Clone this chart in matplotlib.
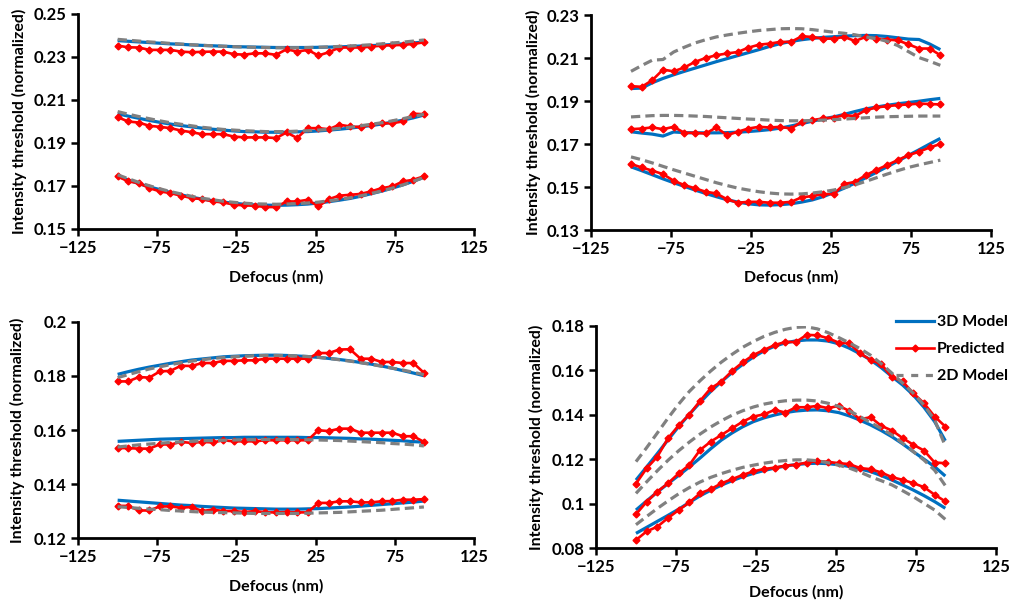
import matplotlib
matplotlib.use('Agg')
import matplotlib.pyplot as plt
from matplotlib.lines import Line2D

plt.rcParams['font.family'] = ['Lato', 'DejaVu Sans']
plt.rcParams['font.weight'] = 'bold'

# ---------------- data ----------------
defocus = [-100, -93.33, -86.67, -80, -73.33, -66.67, -60, -53.33, -46.67, -40,
           -33.33, -26.67, -20, -13.33, -6.67, 0, 6.67, 13.33, 20, 26.67,
           33.33, 40, 46.67, 53.33, 60, 66.67, 73.33, 80, 86.67, 93.33]

xticks = [-125, -75, -25, 25, 75, 125]
xtick_labels = ['\u2212125', '\u221275', '\u221225', '25', '75', '125']

# Panel 1 (top-left)
p1_top_3d = [0.2376, 0.2373, 0.2370, 0.2367, 0.2364, 0.2361, 0.2359, 0.2356, 0.2354, 0.2352, 0.2350, 0.2348, 0.2347, 0.2346, 0.2345, 0.2344, 0.2344, 0.2344, 0.2344, 0.2345, 0.2346, 0.2347, 0.2349, 0.2351, 0.2353, 0.2355, 0.2358, 0.2361, 0.2365, 0.2370]
p1_top_pred = [0.2353, 0.2345, 0.2344, 0.2333, 0.2333, 0.2333, 0.2325, 0.2322, 0.2324, 0.2325, 0.2325, 0.2313, 0.2311, 0.2317, 0.2317, 0.2310, 0.2336, 0.2325, 0.2333, 0.2307, 0.2322, 0.2344, 0.2344, 0.2344, 0.2348, 0.2353, 0.2355, 0.2356, 0.2361, 0.2368]
p1_top_2d = [0.2382, 0.2378, 0.2374, 0.2370, 0.2367, 0.2363, 0.2360, 0.2357, 0.2354, 0.2352, 0.2350, 0.2348, 0.2346, 0.2345, 0.2344, 0.2343, 0.2343, 0.2343, 0.2344, 0.2345, 0.2347, 0.2349, 0.2351, 0.2354, 0.2357, 0.2361, 0.2365, 0.2369, 0.2374, 0.2379]
p1_mid_3d = [0.2036, 0.2025, 0.2015, 0.2005, 0.1996, 0.1988, 0.1981, 0.1975, 0.1969, 0.1964, 0.1960, 0.1956, 0.1953, 0.1952, 0.1950, 0.1950, 0.1950, 0.1952, 0.1953, 0.1956, 0.1960, 0.1964, 0.1969, 0.1975, 0.1981, 0.1988, 0.1997, 0.2006, 0.2017, 0.2030]
p1_mid_pred = [0.2020, 0.2000, 0.1995, 0.1980, 0.1975, 0.1969, 0.1958, 0.1950, 0.1941, 0.1941, 0.1941, 0.1930, 0.1926, 0.1926, 0.1926, 0.1923, 0.1949, 0.1923, 0.1969, 0.1969, 0.1964, 0.1985, 0.1977, 0.1974, 0.1985, 0.1992, 0.1992, 0.2000, 0.2036, 0.2034]
p1_mid_2d = [0.2046, 0.2034, 0.2023, 0.2013, 0.2003, 0.1994, 0.1987, 0.1980, 0.1973, 0.1968, 0.1963, 0.1960, 0.1957, 0.1955, 0.1953, 0.1953, 0.1953, 0.1955, 0.1957, 0.1960, 0.1963, 0.1968, 0.1973, 0.1980, 0.1987, 0.1994, 0.2003, 0.2013, 0.2023, 0.2034]
p1_bot_3d = [0.1745, 0.1728, 0.1711, 0.1696, 0.1683, 0.1670, 0.1659, 0.1648, 0.1639, 0.1632, 0.1625, 0.1620, 0.1615, 0.1612, 0.1611, 0.1610, 0.1611, 0.1613, 0.1616, 0.1621, 0.1627, 0.1634, 0.1642, 0.1652, 0.1664, 0.1676, 0.1690, 0.1705, 0.1722, 0.1740]
p1_bot_pred = [0.1745, 0.1721, 0.1714, 0.1690, 0.1675, 0.1667, 0.1655, 0.1644, 0.1639, 0.1628, 0.1624, 0.1613, 0.1610, 0.1608, 0.1602, 0.1602, 0.1628, 0.1628, 0.1636, 0.1605, 0.1639, 0.1655, 0.1659, 0.1663, 0.1675, 0.1690, 0.1698, 0.1721, 0.1729, 0.1745]
p1_bot_2d = [0.1752, 0.1734, 0.1717, 0.1701, 0.1687, 0.1674, 0.1663, 0.1652, 0.1643, 0.1636, 0.1629, 0.1624, 0.1620, 0.1617, 0.1616, 0.1615, 0.1616, 0.1618, 0.1621, 0.1625, 0.1631, 0.1637, 0.1645, 0.1654, 0.1665, 0.1677, 0.1690, 0.1705, 0.1722, 0.1740]
p1_yticks = [0.15, 0.17, 0.19, 0.21, 0.23, 0.25]
p1_ylabels = ['0.15', '0.17', '0.19', '0.21', '0.23', '0.25']

# Panel 2 (top-right)
p2_top_3d = [0.1958, 0.1960, 0.1985, 0.2005, 0.2022, 0.2038, 0.2053, 0.2068, 0.2083, 0.2097, 0.2111, 0.2125, 0.2139, 0.2154, 0.2167, 0.2177, 0.2185, 0.2191, 0.2196, 0.2199, 0.2202, 0.2204, 0.2205, 0.2204, 0.2200, 0.2194, 0.2188, 0.2186, 0.2165, 0.2139]
p2_top_pred = [0.1969, 0.1966, 0.1997, 0.2046, 0.2038, 0.2056, 0.2082, 0.2100, 0.2113, 0.2121, 0.2128, 0.2148, 0.2162, 0.2167, 0.2175, 0.2175, 0.2201, 0.2198, 0.2190, 0.2190, 0.2198, 0.2179, 0.2198, 0.2190, 0.2186, 0.2182, 0.2164, 0.2144, 0.2144, 0.2113]
p2_top_2d = [0.2038, 0.2065, 0.2090, 0.2093, 0.2128, 0.2150, 0.2170, 0.2185, 0.2198, 0.2207, 0.2215, 0.2222, 0.2228, 0.2232, 0.2236, 0.2237, 0.2236, 0.2232, 0.2226, 0.2220, 0.2215, 0.2208, 0.2198, 0.2190, 0.2178, 0.2158, 0.2130, 0.2102, 0.2085, 0.2066]
p2_mid_3d = [0.1757, 0.1751, 0.1746, 0.1737, 0.1756, 0.1753, 0.1752, 0.1752, 0.1752, 0.1753, 0.1755, 0.1758, 0.1762, 0.1767, 0.1774, 0.1784, 0.1795, 0.1806, 0.1817, 0.1826, 0.1838, 0.1851, 0.1863, 0.1872, 0.1880, 0.1887, 0.1893, 0.1899, 0.1906, 0.1912]
p2_mid_pred = [0.1769, 0.1772, 0.1777, 0.1769, 0.1780, 0.1752, 0.1752, 0.1749, 0.1777, 0.1741, 0.1757, 0.1772, 0.1780, 0.1777, 0.1780, 0.1772, 0.1803, 0.1811, 0.1819, 0.1823, 0.1834, 0.1830, 0.1857, 0.1870, 0.1876, 0.1881, 0.1884, 0.1888, 0.1886, 0.1884]
p2_mid_2d = [0.1826, 0.1829, 0.1832, 0.1833, 0.1833, 0.1832, 0.1830, 0.1828, 0.1825, 0.1822, 0.1819, 0.1816, 0.1814, 0.1811, 0.1809, 0.1808, 0.1808, 0.1809, 0.1811, 0.1813, 0.1816, 0.1819, 0.1822, 0.1825, 0.1827, 0.1828, 0.1829, 0.1830, 0.1830, 0.1830]
p2_bot_3d = [0.1594, 0.1576, 0.1557, 0.1538, 0.1520, 0.1503, 0.1486, 0.1470, 0.1455, 0.1441, 0.1430, 0.1422, 0.1417, 0.1416, 0.1418, 0.1422, 0.1430, 0.1440, 0.1455, 0.1474, 0.1495, 0.1518, 0.1543, 0.1568, 0.1594, 0.1620, 0.1647, 0.1673, 0.1700, 0.1726]
p2_bot_pred = [0.1607, 0.1591, 0.1576, 0.1560, 0.1529, 0.1509, 0.1494, 0.1478, 0.1470, 0.1443, 0.1427, 0.1431, 0.1431, 0.1427, 0.1427, 0.1431, 0.1452, 0.1458, 0.1467, 0.1467, 0.1514, 0.1524, 0.1555, 0.1579, 0.1602, 0.1625, 0.1648, 0.1664, 0.1684, 0.1700]
p2_bot_2d = [0.1640, 0.1627, 0.1612, 0.1596, 0.1580, 0.1565, 0.1550, 0.1535, 0.1520, 0.1507, 0.1495, 0.1486, 0.1478, 0.1472, 0.1468, 0.1467, 0.1468, 0.1472, 0.1478, 0.1486, 0.1497, 0.1510, 0.1526, 0.1543, 0.1560, 0.1576, 0.1591, 0.1603, 0.1614, 0.1625]
p2_yticks = [0.13, 0.15, 0.17, 0.19, 0.21, 0.23]
p2_ylabels = ['0.13', '0.15', '0.17', '0.19', '0.21', '0.23']

# Panel 3 (bottom-left)
p3_top_3d = [0.1806, 0.1816, 0.1825, 0.1833, 0.1840, 0.1847, 0.1853, 0.1859, 0.1863, 0.1867, 0.1871, 0.1873, 0.1875, 0.1876, 0.1877, 0.1877, 0.1876, 0.1874, 0.1872, 0.1869, 0.1865, 0.1861, 0.1856, 0.1850, 0.1844, 0.1837, 0.1829, 0.1820, 0.1811, 0.1801]
p3_top_pred = [0.1780, 0.1780, 0.1796, 0.1794, 0.1817, 0.1819, 0.1838, 0.1837, 0.1848, 0.1848, 0.1856, 0.1856, 0.1858, 0.1858, 0.1864, 0.1864, 0.1864, 0.1864, 0.1864, 0.1885, 0.1885, 0.1898, 0.1899, 0.1864, 0.1864, 0.1852, 0.1852, 0.1848, 0.1848, 0.1812]
p3_top_2d = [0.1794, 0.1805, 0.1816, 0.1826, 0.1834, 0.1842, 0.1849, 0.1855, 0.1860, 0.1865, 0.1868, 0.1871, 0.1873, 0.1875, 0.1876, 0.1876, 0.1876, 0.1874, 0.1872, 0.1869, 0.1865, 0.1860, 0.1855, 0.1849, 0.1843, 0.1836, 0.1829, 0.1822, 0.1814, 0.1805]
p3_mid_3d = [0.1558, 0.1560, 0.1562, 0.1564, 0.1566, 0.1567, 0.1568, 0.1569, 0.1570, 0.1571, 0.1572, 0.1572, 0.1573, 0.1573, 0.1573, 0.1573, 0.1573, 0.1573, 0.1572, 0.1572, 0.1571, 0.1570, 0.1569, 0.1567, 0.1566, 0.1564, 0.1562, 0.1560, 0.1557, 0.1555]
p3_mid_pred = [0.1533, 0.1533, 0.1531, 0.1531, 0.1547, 0.1546, 0.1556, 0.1552, 0.1556, 0.1554, 0.1562, 0.1558, 0.1558, 0.1558, 0.1562, 0.1562, 0.1562, 0.1562, 0.1562, 0.1599, 0.1596, 0.1605, 0.1605, 0.1590, 0.1590, 0.1590, 0.1590, 0.1577, 0.1577, 0.1556]
p3_mid_2d = [0.1537, 0.1541, 0.1545, 0.1548, 0.1551, 0.1554, 0.1556, 0.1558, 0.1560, 0.1561, 0.1562, 0.1563, 0.1564, 0.1564, 0.1565, 0.1565, 0.1565, 0.1564, 0.1564, 0.1563, 0.1562, 0.1561, 0.1559, 0.1557, 0.1555, 0.1553, 0.1550, 0.1548, 0.1545, 0.1541]
p3_bot_3d = [0.1340, 0.1337, 0.1334, 0.1331, 0.1328, 0.1325, 0.1322, 0.1320, 0.1317, 0.1315, 0.1313, 0.1311, 0.1310, 0.1309, 0.1308, 0.1307, 0.1307, 0.1307, 0.1308, 0.1309, 0.1311, 0.1313, 0.1315, 0.1318, 0.1321, 0.1324, 0.1327, 0.1330, 0.1333, 0.1337]
p3_bot_pred = [0.1319, 0.1319, 0.1302, 0.1302, 0.1317, 0.1317, 0.1312, 0.1315, 0.1300, 0.1305, 0.1300, 0.1300, 0.1296, 0.1300, 0.1295, 0.1295, 0.1296, 0.1295, 0.1295, 0.1330, 0.1330, 0.1336, 0.1336, 0.1332, 0.1332, 0.1336, 0.1337, 0.1342, 0.1342, 0.1344]
p3_bot_2d = [0.1316, 0.1313, 0.1310, 0.1307, 0.1305, 0.1302, 0.1300, 0.1298, 0.1296, 0.1295, 0.1294, 0.1293, 0.1292, 0.1291, 0.1291, 0.1291, 0.1291, 0.1291, 0.1292, 0.1293, 0.1294, 0.1295, 0.1297, 0.1299, 0.1301, 0.1303, 0.1306, 0.1309, 0.1312, 0.1315]
p3_yticks = [0.12, 0.14, 0.16, 0.18, 0.20]
p3_ylabels = ['0.12', '0.14', '0.16', '0.18', '0.2']

# Panel 4 (bottom-right)
p4_top_3d = [0.1106, 0.1165, 0.1225, 0.1287, 0.1347, 0.1402, 0.1455, 0.1505, 0.1549, 0.1590, 0.1627, 0.1660, 0.1688, 0.1709, 0.1724, 0.1733, 0.1737, 0.1737, 0.1732, 0.1720, 0.1700, 0.1675, 0.1647, 0.1612, 0.1572, 0.1534, 0.1489, 0.1434, 0.1369, 0.1283]
p4_top_pred = [0.1090, 0.1159, 0.1211, 0.1294, 0.1352, 0.1401, 0.1462, 0.1519, 0.1549, 0.1597, 0.1636, 0.1669, 0.1692, 0.1714, 0.1728, 0.1728, 0.1760, 0.1758, 0.1745, 0.1725, 0.1722, 0.1677, 0.1647, 0.1628, 0.1569, 0.1550, 0.1497, 0.1452, 0.1392, 0.1347]
p4_top_2d = [0.1189, 0.1252, 0.1318, 0.1385, 0.1448, 0.1505, 0.1553, 0.1597, 0.1637, 0.1672, 0.1704, 0.1730, 0.1753, 0.1771, 0.1785, 0.1794, 0.1796, 0.1787, 0.1770, 0.1748, 0.1724, 0.1698, 0.1668, 0.1630, 0.1587, 0.1543, 0.1497, 0.1444, 0.1377, 0.1259]
p4_mid_3d = [0.0971, 0.1012, 0.1052, 0.1090, 0.1127, 0.1165, 0.1205, 0.1247, 0.1286, 0.1318, 0.1346, 0.1369, 0.1386, 0.1399, 0.1410, 0.1417, 0.1421, 0.1422, 0.1418, 0.1410, 0.1395, 0.1376, 0.1354, 0.1329, 0.1301, 0.1269, 0.1234, 0.1200, 0.1166, 0.1124]
p4_mid_pred = [0.0952, 0.1008, 0.1054, 0.1091, 0.1136, 0.1174, 0.1241, 0.1279, 0.1309, 0.1339, 0.1369, 0.1392, 0.1402, 0.1422, 0.1410, 0.1434, 0.1434, 0.1440, 0.1430, 0.1440, 0.1418, 0.1380, 0.1389, 0.1350, 0.1329, 0.1295, 0.1265, 0.1239, 0.1185, 0.1182]
p4_mid_2d = [0.1046, 0.1098, 0.1148, 0.1195, 0.1238, 0.1277, 0.1313, 0.1345, 0.1373, 0.1398, 0.1418, 0.1435, 0.1448, 0.1457, 0.1463, 0.1466, 0.1466, 0.1462, 0.1452, 0.1438, 0.1418, 0.1392, 0.1365, 0.1338, 0.1309, 0.1272, 0.1234, 0.1196, 0.1150, 0.1081]
p4_bot_3d = [0.0866, 0.0893, 0.0920, 0.0947, 0.0975, 0.1005, 0.1035, 0.1060, 0.1083, 0.1103, 0.1121, 0.1136, 0.1149, 0.1160, 0.1169, 0.1176, 0.1180, 0.1182, 0.1180, 0.1175, 0.1167, 0.1156, 0.1144, 0.1126, 0.1106, 0.1084, 0.1061, 0.1036, 0.1009, 0.0979]
p4_bot_pred = [0.0836, 0.0875, 0.0896, 0.0935, 0.0971, 0.1005, 0.1046, 0.1065, 0.1091, 0.1110, 0.1129, 0.1145, 0.1156, 0.1162, 0.1171, 0.1175, 0.1185, 0.1192, 0.1188, 0.1182, 0.1178, 0.1160, 0.1155, 0.1140, 0.1119, 0.1107, 0.1092, 0.1074, 0.1040, 0.1010]
p4_bot_2d = [0.0905, 0.0942, 0.0978, 0.1012, 0.1044, 0.1072, 0.1097, 0.1118, 0.1135, 0.1150, 0.1163, 0.1173, 0.1182, 0.1189, 0.1194, 0.1197, 0.1197, 0.1193, 0.1184, 0.1173, 0.1160, 0.1142, 0.1121, 0.1103, 0.1084, 0.1058, 0.1031, 0.1001, 0.0971, 0.0929]
p4_yticks = [0.08, 0.10, 0.12, 0.14, 0.16, 0.18]
p4_ylabels = ['0.08', '0.1', '0.12', '0.14', '0.16', '0.18']

series_names = ['3D Model', 'Predicted', '2D Model']

# ---------------- styling ----------------
C_3D = '#0070C0'
C_PRED = '#FF0000'
C_2D = '#808080'

panels = [
    dict(pos=[0.0768, 0.6215, 0.3898, 0.3554],
         groups=[(p1_top_3d, p1_top_pred, p1_top_2d), (p1_mid_3d, p1_mid_pred, p1_mid_2d), (p1_bot_3d, p1_bot_pred, p1_bot_2d)],
         yticks=p1_yticks, ylabels=p1_ylabels, ylx=-0.149, xly=-0.223),
    dict(pos=[0.5817, 0.6198, 0.3937, 0.3554],
         groups=[(p2_top_3d, p2_top_pred, p2_top_2d), (p2_mid_3d, p2_mid_pred, p2_mid_2d), (p2_bot_3d, p2_bot_pred, p2_bot_2d)],
         yticks=p2_yticks, ylabels=p2_ylabels, ylx=-0.145, xly=-0.219),
    dict(pos=[0.0768, 0.1107, 0.3898, 0.3571],
         groups=[(p3_top_3d, p3_top_pred, p3_top_2d), (p3_mid_3d, p3_mid_pred, p3_mid_2d), (p3_bot_3d, p3_bot_pred, p3_bot_2d)],
         yticks=p3_yticks, ylabels=p3_ylabels, ylx=-0.152, xly=-0.225),
    dict(pos=[0.5866, 0.0942, 0.3937, 0.3670],
         groups=[(p4_top_3d, p4_top_pred, p4_top_2d), (p4_mid_3d, p4_mid_pred, p4_mid_2d), (p4_bot_3d, p4_bot_pred, p4_bot_2d)],
         yticks=p4_yticks, ylabels=p4_ylabels, ylx=-0.150, xly=-0.201),
]

fig = plt.figure(figsize=(10.16, 6.05), dpi=100)

for p in panels:
    ax = fig.add_axes(p['pos'])
    for y3d, ypred, y2d in p['groups']:
        ax.plot(defocus, y3d, color=C_3D, lw=2.3, solid_capstyle='butt', zorder=2)
        ax.plot(defocus, ypred, color=C_PRED, lw=1.9, marker='D', ms=3.5, zorder=3)
        ax.plot(defocus, y2d, color=C_2D, lw=2.3, dashes=(2.9, 1.6), zorder=4)
    ax.set_xlim(-125, 125)
    ax.set_xticks(xticks)
    ax.set_xticklabels(xtick_labels)
    ax.set_ylim(p['yticks'][0], p['yticks'][-1])
    ax.set_yticks(p['yticks'])
    ax.set_yticklabels(p['ylabels'])
    for s in ['top', 'right']:
        ax.spines[s].set_visible(False)
    for s in ['left', 'bottom']:
        ax.spines[s].set_linewidth(2.0)
    ax.tick_params(direction='out', length=5, width=1.8, labelsize=12, pad=3)
    for lab in ax.get_xticklabels() + ax.get_yticklabels():
        lab.set_fontweight('bold')
    ax.set_xlabel('Defocus (nm)', fontsize=11.5, fontweight='bold')
    ax.set_ylabel('Intensity threshold (normalized)', fontsize=11.5, fontweight='bold')
    ax.xaxis.set_label_coords(0.5, p['xly'])
    ax.xaxis.label.set_va('center')
    ax.yaxis.set_label_coords(p['ylx'], 0.5)
    ax.yaxis.label.set_va('center')

handles = [
    Line2D([], [], color=C_3D, lw=2.3),
    Line2D([], [], color=C_PRED, lw=1.9, marker='D', ms=3.5),
    Line2D([], [], color=C_2D, lw=2.3, dashes=(2.2, 2.4)),
]
fig.legend(handles, series_names, loc='upper left', bbox_to_anchor=(896 / 1016, 1 - 315 / 605),
           frameon=False, prop={'size': 11.5, 'weight': 'bold'}, handlelength=2.4,
           handletextpad=0.15, labelspacing=0.8, borderpad=0, borderaxespad=0)

fig.savefig('out.png', dpi=100)
